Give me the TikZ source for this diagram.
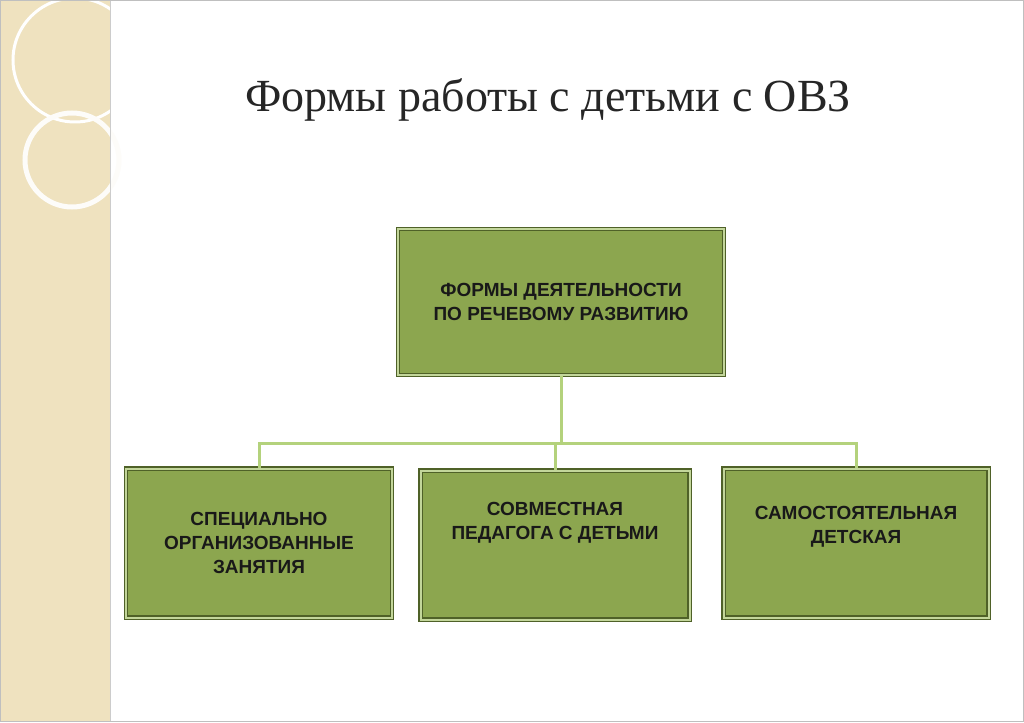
\documentclass[tikz,border=0pt]{standalone}
\usepackage{fontspec}
\setmainfont{Liberation Serif}
\newfontfamily\boxfont{Liberation Sans}
\definecolor{strip}{HTML}{EFE2BF}
\definecolor{boxfill}{HTML}{8CA64F}
\definecolor{boxedge}{HTML}{4F6128}
\definecolor{boxlight}{HTML}{C3D69B}
\definecolor{conn}{HTML}{B4D27C}
\tikzset{
  gbox/.style={draw=boxedge, line width=1.2pt, fill=boxfill, inner sep=0pt,
    align=center, font=\boxfont\bfseries\fontsize{19}{24}\selectfont, text=black!90,
    double=boxlight, double distance=2pt},
  link/.style={draw=conn, line width=3pt}
}
\begin{document}
\begin{tikzpicture}[x=1pt,y=-1pt]
\useasboundingbox (0,0) rectangle (1024,722);
\fill[white] (0,0) rectangle (1024,722);
\fill[strip] (0,0) rectangle (110,722);
\draw[white, line width=3pt] (75,60) circle (62);
\draw[white!90!strip, line width=5pt] (72,160) circle (47);
\draw[gray!40] (110,0) -- (110,722);
\draw[gray!50] (0.5,0.5) rectangle (1023.5,721.5);
\node[font=\fontsize{46}{50}\selectfont, text=black!85] (title) at (548,100) {Формы работы с детьми с ОВЗ};
\node[gbox, minimum width=326pt, minimum height=146pt] (top) at (561,302) {ФОРМЫ ДЕЯТЕЛЬНОСТИ\\ПО РЕЧЕВОМУ РАЗВИТИЮ};
\node[gbox, minimum width=266pt, minimum height=149pt] (b1) at (259,543) {СПЕЦИАЛЬНО\\ОРГАНИЗОВАННЫЕ\\ЗАНЯТИЯ};
\node[gbox, minimum width=269pt, minimum height=149pt] (b2) at (555,545) {СОВМЕСТНАЯ\\ПЕДАГОГА С ДЕТЬМИ\\[24pt]};
\node[gbox, minimum width=265pt, minimum height=149pt] (b3) at (856,543) {САМОСТОЯТЕЛЬНАЯ\\ДЕТСКАЯ\\[12pt]};
\coordinate (j) at (561,443);
\draw[link] (top.south) -- (j);
\draw[link] (b1.north) |- (j) -| (b3.north);
\draw[link] (b2.north) -- (b2.north |- j);
\end{tikzpicture}
\end{document}
